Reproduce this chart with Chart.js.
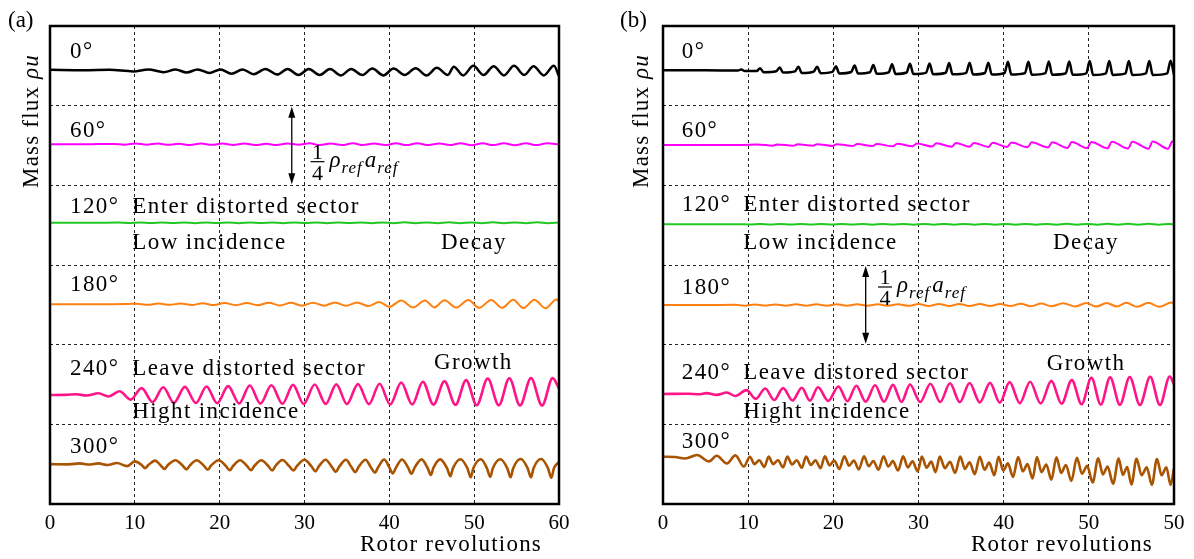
<!DOCTYPE html>
<html>
<head>
<meta charset="utf-8">
<script src="https://cdn.jsdelivr.net/npm/chart.js@4.4.1/dist/chart.umd.min.js"></script>
<style>
  body { margin: 0; background: #fff; }
  #wrap { position: relative; width: 1194px; height: 559px; }
  .panel { position: absolute; top: 0; height: 559px; }
  .fontprobe { position: absolute; left: -9999px; top: 0; font-family: "Liberation Serif", "Times New Roman", serif; font-size: 23px; }
</style>
</head>
<body>
<div id="wrap">
  <div class="panel" style="left:0;width:600px"><canvas id="chartA"></canvas></div>
  <div class="panel" style="left:600px;width:594px"><canvas id="chartB"></canvas></div>
</div>
<span class="fontprobe">Mass flux <i>ρu</i> 0123456789</span>
<script>
const SERIF = '"Liberation Serif", "Times New Roman", Times, "DejaVu Serif", serif';

// x tick labels (panel b repeats "50" at the right edge)
const ticksA = ['0', '10', '20', '30', '40', '50', '60'];
const ticksB = ['0', '10', '20', '30', '40', '50', '50'];

const angleNames = ['0°', '60°', '120°', '180°', '240°', '300°'];
const lineColors = ['#000000', '#ff00ff', '#22c722', '#ff8010', '#ff1488', '#a85400'];
const lineWidths = [2.5, 2, 2, 2, 2.6, 2.6];

// [rotor revolutions, stacked mass flux] per probe angle, panel (a)
const a0deg = [[0,5.45],[4,5.445],[7,5.45],[9.8,5.43],[11.6,5.455],[13.4,5.42],[14.8,5.455],[16.1,5.415],[17.4,5.455],[18.8,5.41],[20.1,5.455],[21.4,5.40],[22.7,5.455],[24.0,5.395],[25.4,5.46],[26.8,5.39],[28.0,5.46],[29.3,5.385],[30.5,5.46],[31.8,5.385],[33.0,5.46],[34.3,5.38],[35.5,5.46],[36.8,5.385],[38.0,5.465],[39.3,5.38],[40.5,5.465],[41.8,5.385],[43.1,5.47],[44.4,5.38],[45.6,5.475],[46.9,5.385],[47.6,5.49],[48.7,5.38],[49.9,5.50],[51.1,5.385],[52.3,5.495],[53.5,5.38],[54.7,5.50],[55.9,5.385],[57.0,5.495],[58.2,5.38],[59.4,5.50],[60,5.37]];
const a60deg = [[0,4.515],[4,4.515],[7.5,4.52],[8.8,4.51],[10.1,4.525],[11.4,4.51],[12.7,4.525],[14.0,4.508],[15.2,4.522],[16.5,4.505],[17.8,4.525],[19.1,4.508],[20.3,4.525],[21.6,4.505],[22.9,4.525],[24.2,4.505],[25.5,4.522],[26.7,4.505],[28.0,4.525],[29.3,4.51],[30.6,4.527],[31.8,4.505],[33.1,4.525],[34.4,4.505],[35.7,4.528],[36.9,4.505],[38.2,4.525],[39.5,4.505],[40.8,4.528],[42.0,4.505],[43.3,4.527],[44.6,4.505],[45.9,4.525],[47.1,4.505],[48.4,4.528],[49.7,4.503],[51.0,4.527],[52.2,4.505],[53.5,4.527],[54.8,4.503],[56.1,4.528],[57.3,4.505],[58.6,4.528],[60,4.515]];
const a120deg = [[0,3.53],[5,3.53],[8,3.532],[9.3,3.526],[10.6,3.534],[11.9,3.527],[13.2,3.535],[14.5,3.526],[15.8,3.533],[17.1,3.525],[18.4,3.534],[19.7,3.527],[21.0,3.535],[22.3,3.525],[23.6,3.534],[24.9,3.526],[26.2,3.535],[27.5,3.525],[28.8,3.534],[30.1,3.526],[31.4,3.535],[32.7,3.525],[34.0,3.534],[35.3,3.526],[36.6,3.535],[37.9,3.524],[39.2,3.535],[40.5,3.525],[41.8,3.536],[43.1,3.524],[44.4,3.535],[45.7,3.525],[47.0,3.536],[48.3,3.524],[49.6,3.535],[50.9,3.525],[52.2,3.536],[53.5,3.524],[54.8,3.535],[56.1,3.525],[57.4,3.536],[58.7,3.525],[60,3.532]];
const a180deg = [[0,2.507],[5,2.507],[9,2.51],[10.2,2.515],[11.5,2.50],[12.8,2.517],[14.1,2.50],[15.4,2.518],[16.7,2.498],[18.0,2.52],[19.3,2.497],[20.6,2.522],[21.9,2.495],[23.2,2.522],[24.5,2.495],[25.8,2.525],[27.1,2.493],[28.4,2.525],[29.7,2.49],[31.0,2.527],[32.3,2.49],[33.6,2.53],[34.9,2.488],[36.2,2.53],[37.5,2.485],[38.8,2.535],[40.0,2.475],[41.4,2.555],[42.8,2.468],[44.2,2.555],[45.3,2.468],[46.5,2.558],[47.9,2.465],[49.3,2.56],[50.6,2.462],[52.0,2.562],[53.3,2.462],[54.6,2.565],[55.8,2.46],[57.1,2.565],[58.4,2.458],[59.7,2.568],[60,2.54]];
const a240deg = [[0,1.368],[1.8,1.37],[3.1,1.378],[4.3,1.362],[5.7,1.39],[6.9,1.35],[8.2,1.415],[9.5,1.31],[10.8,1.455],[12.1,1.28],[13.35,1.465],[14.6,1.27],[15.9,1.47],[17.2,1.268],[18.45,1.475],[19.7,1.265],[21.0,1.48],[22.3,1.262],[23.55,1.488],[24.8,1.26],[26.1,1.49],[27.4,1.258],[28.65,1.495],[29.9,1.256],[31.2,1.5],[32.5,1.255],[33.75,1.502],[35.0,1.255],[36.3,1.505],[37.6,1.254],[38.85,1.51],[40.1,1.25],[41.4,1.525],[42.7,1.25],[43.95,1.535],[45.2,1.248],[46.5,1.54],[47.8,1.245],[49.05,1.555],[50.3,1.24],[51.6,1.575],[52.9,1.238],[54.15,1.578],[55.4,1.236],[56.7,1.58],[58.0,1.235],[59.25,1.58],[60,1.45]];
const a300deg = [[0,0.50],[2.2,0.498],[3.5,0.51],[4.6,0.495],[5.7,0.51],[6.8,0.49],[7.9,0.515],[9.1,0.475],[10.0,0.535],
  [10.8,0.49],[11.2,0.45],[11.6,0.49],[12.4,0.545],[13.0,0.49],[13.5,0.44],[13.9,0.49],[14.8,0.55],
  [15.6,0.485],[16.1,0.435],[16.5,0.485],[17.3,0.55],[18.1,0.485],[18.6,0.43],[19.0,0.485],[19.9,0.55],
  [20.7,0.48],[21.2,0.425],[21.6,0.48],[22.4,0.55],[23.2,0.48],[23.7,0.425],[24.1,0.48],[24.9,0.55],
  [25.7,0.48],[26.2,0.42],[26.6,0.48],[27.4,0.552],[28.2,0.475],[28.7,0.42],[29.1,0.475],[30.0,0.555],
  [30.8,0.475],[31.3,0.41],[31.7,0.475],[32.5,0.555],[33.2,0.47],[33.7,0.405],[34.1,0.47],[34.9,0.555],
  [35.5,0.47],[36.0,0.40],[36.4,0.47],[37.2,0.555],[37.8,0.465],[38.3,0.395],[38.7,0.465],[39.4,0.558],
  [40.0,0.46],[40.4,0.385],[40.8,0.46],[41.5,0.558],[42.2,0.46],[42.6,0.38],[43.0,0.46],[43.8,0.56],
  [44.5,0.455],[44.9,0.365],[45.2,0.455],[46.0,0.56],[46.8,0.45],[47.2,0.35],[47.5,0.45],[48.4,0.562],
  [49.2,0.45],[49.6,0.335],[49.9,0.45],[50.8,0.562],[51.5,0.45],[51.9,0.34],[52.2,0.45],[53.1,0.562],
  [53.9,0.45],[54.3,0.335],[54.6,0.45],[55.5,0.565],[56.3,0.45],[56.7,0.335],[57.0,0.45],[57.9,0.565],
  [58.7,0.45],[59.1,0.33],[59.4,0.45],[60,0.53]];

// panel (b)
const b0deg = [[0,5.445],[5,5.445],[8.8,5.44],[9.2,5.455],[9.6,5.435],
  [11.0,5.435],[11.4,5.47],[11.8,5.42],[13.3,5.432],[13.7,5.48],[14.1,5.415],[15.5,5.43],[15.9,5.49],[16.3,5.41],
  [17.7,5.428],[18.1,5.49],[18.5,5.408],[19.9,5.425],[20.3,5.495],[20.7,5.405],[22.1,5.423],[22.5,5.505],[22.9,5.403],
  [24.3,5.42],[24.7,5.51],[25.1,5.40],[26.5,5.418],[26.9,5.52],[27.3,5.398],[28.6,5.416],[29.0,5.525],[29.4,5.396],
  [30.9,5.415],[31.3,5.53],[31.7,5.395],[33.2,5.413],[33.6,5.535],[34.0,5.393],[35.6,5.412],[36.0,5.54],[36.4,5.392],
  [37.8,5.41],[38.2,5.54],[38.6,5.39],[40.1,5.41],[40.5,5.55],[40.9,5.39],[42.5,5.408],[42.9,5.55],[43.3,5.388],
  [44.9,5.408],[45.3,5.555],[45.7,5.388],[47.3,5.407],[47.7,5.555],[48.1,5.387],[49.7,5.406],[50.1,5.56],[50.5,5.386],
  [52.0,5.406],[52.4,5.56],[52.8,5.386],[54.3,5.405],[54.7,5.56],[55.1,5.385],[56.7,5.405],[57.1,5.56],[57.5,5.385],
  [59.2,5.405],[59.6,5.565],[60,5.39]];
const b60deg = [[0,4.505],[6,4.505],[9,4.505],[11.1,4.512],[12.9,4.498],[13.4,4.514],[15.3,4.497],[15.8,4.515],[17.6,4.497],[18.1,4.516],[19.9,4.495],[20.4,4.517],[22.3,4.495],[22.8,4.518],[24.6,4.493],[25.1,4.52],[27.0,4.49],[27.5,4.522],[29.3,4.49],[29.8,4.525],[31.6,4.488],[32.1,4.527],[33.9,4.485],[34.4,4.53],[36.0,4.485],[36.5,4.532],[38.2,4.482],[38.7,4.535],[40.4,4.48],[40.9,4.537],[42.8,4.478],[43.3,4.54],[45.2,4.475],[45.7,4.54],[47.5,4.47],[48.0,4.543],[49.8,4.468],[50.3,4.545],[52.2,4.465],[52.7,4.547],[54.6,4.462],[55.1,4.548],[57.0,4.46],[57.5,4.55],[59.3,4.458],[59.8,4.55],[60,4.53]];
const b120deg = [[0,3.511],[6,3.511],[9,3.513],[10.2,3.508],[11.4,3.514],[12.6,3.508],[13.8,3.514],[15.0,3.507],[16.2,3.514],[17.4,3.507],[18.6,3.515],[19.8,3.507],[21.0,3.514],[22.2,3.507],[23.4,3.515],[24.6,3.506],[25.8,3.515],[27.0,3.507],[28.2,3.515],[29.4,3.506],[30.6,3.515],[31.8,3.506],[33.0,3.516],[34.2,3.506],[35.4,3.515],[36.6,3.506],[37.8,3.516],[39.0,3.506],[40.2,3.516],[41.4,3.505],[42.6,3.516],[43.8,3.505],[45.0,3.516],[46.2,3.505],[47.4,3.517],[48.6,3.505],[49.8,3.516],[51.0,3.505],[52.2,3.517],[53.4,3.505],[54.6,3.517],[55.8,3.505],[57.0,3.517],[58.2,3.505],[59.4,3.516],[60,3.51]];
const b180deg = [[0,2.498],[5,2.498],[8.5,2.5],[9.6,2.49],[10.8,2.505],[12.0,2.492],[13.2,2.505],[14.4,2.49],[15.6,2.506],[16.8,2.49],[18.0,2.506],[19.2,2.49],[20.4,2.507],[21.6,2.488],[22.8,2.507],[24.0,2.488],[25.2,2.508],[26.4,2.488],[27.6,2.508],[28.8,2.487],[30.0,2.509],[31.2,2.486],[32.4,2.51],[33.6,2.486],[34.8,2.51],[36.0,2.485],[37.2,2.512],[38.4,2.485],[39.6,2.512],[40.8,2.484],[42.0,2.514],[43.2,2.483],[44.4,2.516],[45.6,2.482],[47.0,2.52],[48.4,2.48],[49.7,2.522],[50.9,2.478],[52.1,2.524],[53.3,2.478],[54.4,2.525],[55.7,2.476],[57.0,2.526],[58.3,2.475],[59.7,2.528],[60,2.51]];
const b240deg = [[0,1.381],[3,1.383],[4.2,1.378],[5.1,1.392],[6.3,1.37],[7.5,1.40],[8.5,1.355],[9.8,1.43],[10.9,1.32],[12.0,1.45],[13.05,1.305],[14.1,1.455],[15.2,1.3],[16.3,1.46],[17.25,1.298],[18.2,1.465],[19.4,1.295],[20.6,1.475],[21.65,1.29],[22.7,1.485],[23.8,1.285],[24.9,1.49],[25.95,1.283],[27.0,1.495],[28.0,1.28],[29.0,1.5],[30.2,1.28],[31.4,1.51],[32.55,1.28],[33.7,1.515],[34.85,1.278],[36.0,1.518],[37.2,1.275],[38.4,1.52],[39.55,1.27],[40.7,1.53],[41.9,1.265],[43.1,1.535],[44.35,1.262],[45.6,1.545],[46.8,1.258],[48.0,1.555],[49.15,1.252],[50.3,1.585],[51.4,1.248],[52.5,1.59],[53.65,1.245],[54.8,1.595],[56.0,1.243],[57.2,1.598],[58.35,1.242],[59.5,1.6],[60,1.5]];
const b300deg = [[0,0.594],[1.4,0.59],[2.6,0.572],[4.0,0.615],[5.4,0.535],[6.3,0.605],[7.5,0.51],[8.5,0.61],[9.5,0.47],
  [10.2,0.594],[10.75,0.5],[11.3,0.55],[11.9,0.465],[12.4,0.595],[12.95,0.5],[13.5,0.55],[14.1,0.46],
  [14.6,0.595],[15.15,0.495],[15.7,0.55],[16.3,0.455],[16.8,0.596],[17.35,0.49],[17.9,0.548],[18.5,0.45],
  [19.0,0.598],[19.55,0.485],[20.1,0.545],[20.7,0.44],[21.3,0.6],[21.85,0.48],[22.4,0.545],[23.0,0.435],
  [23.6,0.6],[24.15,0.475],[24.7,0.54],[25.3,0.43],[25.9,0.6],[26.45,0.47],[27.0,0.538],[27.6,0.42],
  [28.2,0.598],[28.75,0.46],[29.3,0.535],[29.9,0.41],[30.4,0.596],[30.95,0.455],[31.5,0.532],[32.0,0.4],
  [32.5,0.595],[33.1,0.45],[33.7,0.53],[34.3,0.39],[34.9,0.595],[35.45,0.44],[36.0,0.525],[36.6,0.375],
  [37.2,0.594],[37.75,0.43],[38.3,0.52],[38.9,0.36],[39.4,0.592],[39.95,0.42],[40.5,0.51],[41.1,0.34],
  [41.7,0.59],[42.25,0.41],[42.8,0.5],[43.4,0.32],[43.9,0.588],[44.45,0.4],[45.0,0.495],[45.6,0.305],
  [46.2,0.585],[46.75,0.39],[47.3,0.49],[47.95,0.29],[48.6,0.58],[49.2,0.38],[49.8,0.48],[50.45,0.27],
  [51.1,0.575],[51.65,0.37],[52.2,0.47],[52.85,0.255],[53.5,0.57],[54.0,0.365],[54.5,0.465],[55.0,0.245],
  [55.6,0.568],[56.2,0.36],[56.8,0.46],[57.4,0.24],[58.0,0.565],[58.55,0.36],[59.1,0.46],[59.6,0.24],[60,0.45]];

// annotation anchors, in axis units
const notesA = [
  { text: angleNames[0], x: 2.36, y: 5.595 },
  { text: angleNames[1], x: 2.36, y: 4.611 },
  { text: angleNames[2], x: 2.36, y: 3.653 },
  { text: 'Enter distorted sector', x: 9.7, y: 3.653 },
  { text: 'Low incidence', x: 9.7, y: 3.201 },
  { text: 'Decay', x: 46.1, y: 3.201 },
  { text: angleNames[3], x: 2.36, y: 2.674 },
  { text: angleNames[4], x: 2.36, y: 1.62 },
  { text: 'Leave distorted sector', x: 9.7, y: 1.62 },
  { text: 'Growth', x: 45.27, y: 1.691 },
  { text: 'Hight incidence', x: 9.7, y: 1.076 },
  { text: angleNames[5], x: 2.36, y: 0.637 }
];
const notesB = [
  { text: angleNames[0], x: 2.2, y: 5.595 },
  { text: angleNames[1], x: 2.2, y: 4.611 },
  { text: angleNames[2], x: 2.2, y: 3.674 },
  { text: 'Enter distorted sector', x: 9.43, y: 3.674 },
  { text: 'Low incidence', x: 9.43, y: 3.197 },
  { text: 'Decay', x: 45.8, y: 3.197 },
  { text: angleNames[3], x: 2.2, y: 2.632 },
  { text: angleNames[4], x: 2.2, y: 1.575 },
  { text: 'Leave distored sector', x: 9.43, y: 1.575 },
  { text: 'Growth', x: 45.05, y: 1.682 },
  { text: 'Hight incidence', x: 9.43, y: 1.076 },
  { text: angleNames[5], x: 2.2, y: 0.70 }
];

function decorPlugin(cfg) {
  return {
    id: 'decor',
    afterDatasetsDraw(chart) {
      const { ctx, chartArea: a } = chart;
      ctx.save();
      ctx.lineWidth = 2.5;
      ctx.strokeStyle = '#000';
      ctx.strokeRect(a.left, a.top, a.right - a.left, a.bottom - a.top);
      ctx.restore();
    },
    afterDraw(chart) {
      const { ctx, chartArea: a, scales: { x, y } } = chart;
      ctx.save();
      ctx.fillStyle = '#000';
      ctx.strokeStyle = '#000';
      ctx.textBaseline = 'alphabetic';
      ctx.textAlign = 'left';

      ctx.font = `23px ${SERIF}`;
      ctx.letterSpacing = '1.4px';
      cfg.notes.forEach(n => {
        ctx.fillText(n.text, x.getPixelForValue(n.x), y.getPixelForValue(n.y));
      });

      // panel letter
      ctx.letterSpacing = '0px';
      ctx.fillText(cfg.letter, a.left - cfg.letterDx, a.top + 1);

      // x axis title
      ctx.textAlign = 'right';
      ctx.font = `23px ${SERIF}`;
      ctx.letterSpacing = '1.2px';
      ctx.fillText('Rotor revolutions', a.right - cfg.titleDx, 551);

      // y axis title, rotated, reading upward
      ctx.save();
      ctx.translate(a.left - cfg.yTitleDx, a.top + 162);
      ctx.rotate(-Math.PI / 2);
      ctx.textAlign = 'left';
      ctx.font = `23px ${SERIF}`;
      ctx.fillText('Mass flux ', 0, 0);
      const w0 = ctx.measureText('Mass flux ').width;
      ctx.font = `italic 23px ${SERIF}`;
      ctx.fillText('ρu', w0, 0);
      ctx.restore();

      // scale bar: double arrow spanning one grid step
      const s = cfg.scaleBar;
      const ax = x.getPixelForValue(s.x);
      const yTop = y.getPixelForValue(s.y1) + 1;
      const yBot = y.getPixelForValue(s.y0) - 1;
      ctx.lineWidth = 1.3;
      ctx.beginPath();
      ctx.moveTo(ax, yTop + 8);
      ctx.lineTo(ax, yBot - 8);
      ctx.stroke();
      ctx.beginPath();
      ctx.moveTo(ax, yTop); ctx.lineTo(ax - 3.5, yTop + 11); ctx.lineTo(ax + 3.5, yTop + 11); ctx.closePath();
      ctx.moveTo(ax, yBot); ctx.lineTo(ax - 3.5, yBot - 11); ctx.lineTo(ax + 3.5, yBot - 11); ctx.closePath();
      ctx.fill();

      // 1/4 rho_ref a_ref
      const fx = x.getPixelForValue(s.fx);
      const fy = y.getPixelForValue(s.fy);
      ctx.letterSpacing = '0px';
      ctx.textAlign = 'center';
      ctx.font = `22px ${SERIF}`;
      ctx.fillText('1', fx, fy - 3);
      ctx.fillText('4', fx, fy + 18);
      ctx.fillRect(fx - 7, fy - 0.6, 14, 1.2);
      ctx.textAlign = 'left';
      let cx = fx + 12;
      const part = (txt, font, dy, gap) => {
        ctx.font = font;
        ctx.fillText(txt, cx, fy + dy);
        cx += ctx.measureText(txt).width + gap;
      };
      ctx.letterSpacing = '1px';
      part('ρ', `italic 23px ${SERIF}`, 5, 0);
      part('ref', `italic 17px ${SERIF}`, 11, 2);
      part('a', `italic 23px ${SERIF}`, 5, 0);
      part('ref', `italic 17px ${SERIF}`, 11, 0);
      ctx.restore();
    }
  };
}

function makeChart(canvasId, series, tickLabels, padding, decor) {
  const datasets = series.map((pts, i) => ({
    label: angleNames[i],
    data: pts.map(([rev, flux]) => ({ x: rev, y: flux })),
    borderColor: lineColors[i],
    borderWidth: lineWidths[i],
    pointRadius: 0,
    fill: false,
    cubicInterpolationMode: 'monotone'
  }));

  const gridStyle = { color: '#222', lineWidth: 1, drawTicks: false };
  const borderStyle = { display: false, dash: [3, 3] };

  return new Chart(document.getElementById(canvasId), {
    type: 'line',
    data: { datasets },
    options: {
      responsive: true,
      maintainAspectRatio: false,
      animation: false,
      layout: { padding },
      plugins: { legend: { display: false }, tooltip: { enabled: false } },
      scales: {
        x: {
          type: 'linear',
          min: 0,
          max: 60,
          afterFit: (scale) => { scale.height = 55; },
          ticks: {
            stepSize: 10,
            padding: 7,
            maxRotation: 0,
            color: '#000',
            font: { family: SERIF, size: 21 },
            callback: (v) => tickLabels[Math.round(v / 10)]
          },
          grid: gridStyle,
          border: borderStyle
        },
        y: {
          min: 0,
          max: 6,
          afterFit: (scale) => { scale.width = 0; },
          ticks: { display: false, stepSize: 1 },
          grid: gridStyle,
          border: borderStyle
        }
      }
    },
    plugins: [decorPlugin(decor)]
  });
}

function drawAll() {
  makeChart('chartA', [a0deg, a60deg, a120deg, a180deg, a240deg, a300deg], ticksA,
    { left: 50, right: 41, top: 26, bottom: 0 },
    { notes: notesA, letter: '(a)', letterDx: 42, titleDx: 17, yTitleDx: 12,
      scaleBar: { x: 28.5, y0: 4, y1: 5, fx: 31.53, fy: 4.297 } });

  makeChart('chartB', [b0deg, b60deg, b120deg, b180deg, b240deg, b300deg], ticksB,
    { left: 63, right: 20, top: 26, bottom: 0 },
    { notes: notesB, letter: '(b)', letterDx: 43, titleDx: 21, yTitleDx: 15,
      scaleBar: { x: 23.8, y0: 2, y1: 3, fx: 26.07, fy: 2.724 } });
}

// make sure the serif face is ready before the canvases paint text
Promise.all([
  document.fonts.load(`23px ${SERIF}`),
  document.fonts.load(`italic 23px ${SERIF}`)
]).then(drawAll, drawAll);
</script>
</body>
</html>
